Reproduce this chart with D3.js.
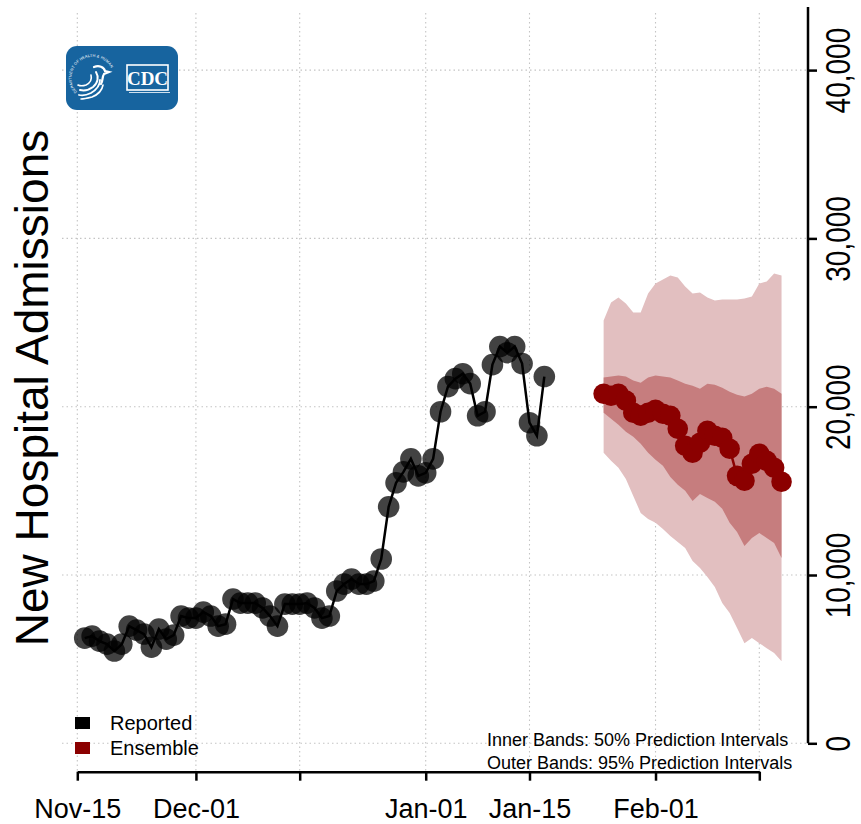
<!DOCTYPE html>
<html>
<head>
<meta charset="utf-8">
<script src="https://cdn.jsdelivr.net/npm/d3@7"></script>
<style>
  body { margin: 0; background: #fff; }
  svg { display: block; font-family: "Liberation Sans", Arial, Helvetica, sans-serif; }
</style>
</head>
<body>
<svg id="chart" width="861" height="824"></svg>
<script>
// Daily reported new hospital admissions
const reportedStart = "2021-11-16";
const reportedValues = [
  6250, 6370, 6070, 5890, 5480, 5890, 6960, 6730, 6490, 5710,
  6790, 6190, 6430, 7560, 7440, 7440, 7800, 7560, 6960, 7080,
  8570, 8330, 8330, 8330, 8040, 7560, 6960, 8270, 8270, 8270,
  8330, 8040, 7440, 7560, 9050, 9460, 9760, 9460, 9460, 9640,
  10950, 14050, 15480, 16130, 16900, 15890, 16070, 16900, 19700, 21190,
  21670, 21960, 21370, 19460, 19700, 22500, 23570, 23210, 23570, 22560,
  19050, 18270, 21790
];

// Ensemble forecast: median and prediction intervals
const ensembleStart = "2022-01-25";
const ensembleMedian = [
  20770, 20650, 20770, 20360, 19640, 19460, 19640, 19820, 19580, 19460,
  18690, 17680, 17260, 17860, 18570, 18270, 18150, 17500, 15890, 15600,
  16610, 17200, 16790, 16370, 15540
];
const upper95 = [
  25120, 26190, 26490, 26130, 25600, 25600, 26730, 27320, 27560, 27800,
  27680, 27140, 26730, 26790, 26490, 26310, 26370, 26370, 26370, 26430,
  26550, 27320, 27440, 27920, 27800
];
const upper50 = [
  21730, 21790, 21850, 21790, 21550, 21430, 21730, 21850, 21790, 21730,
  21550, 21370, 21250, 21070, 21370, 21310, 21130, 20890, 20710, 20600,
  20770, 21070, 21190, 21070, 20770
];
const lower50 = [
  19640, 19290, 18930, 18510, 18210, 17800, 17260, 16850, 16490, 15830,
  15360, 15000, 14400, 14820, 14580, 14350, 13930, 13100, 12560, 11730,
  12200, 12500, 12200, 11900, 11010
];
const lower95 = [
  17260, 16790, 16370, 15710, 14700, 13690, 13330, 13100, 12740, 12320,
  11960, 11610, 10830, 10420, 9880, 9290, 8330, 7740, 6850, 5950,
  6250, 5950, 5650, 5360, 4880
];

// Axis ticks and labels
const xTickDates = ["2021-11-15", "2021-12-01", "2021-12-15", "2022-01-01", "2022-01-15", "2022-02-01", "2022-02-15"];
const xTickLabels = ["Nov-15", "Dec-01", "", "Jan-01", "Jan-15", "Feb-01", ""];
const yTicks = [0, 10000, 20000, 30000, 40000];
const yAxisMax = 43750;
const legendLabels = ["Reported", "Ensemble"];
const noteLines = ["Inner Bands: 50% Prediction Intervals", "Outer Bands: 95% Prediction Intervals"];

const parse = d3.utcParse("%Y-%m-%d");
const reported = reportedValues.map((v, i) => ({ date: d3.utcDay.offset(parse(reportedStart), i), value: v }));
const ensemble = ensembleMedian.map((v, i) => ({
  date: d3.utcDay.offset(parse(ensembleStart), i),
  value: v, lo50: lower50[i], hi50: upper50[i], lo95: lower95[i], hi95: upper95[i]
}));
const tickDates = xTickDates.map(parse);

const svg = d3.select("#chart");

const x = d3.scaleUtc().domain([tickDates[0], tickDates[tickDates.length - 1]]).range([77.3, 759.3]);
const y = d3.scaleLinear().domain([0, 40000]).range([743.3, 70.1]);

const plot = { left: 62, right: 808, top: 13, bottom: 771.7 };

// Dotted grid
const grid = svg.append("g").attr("stroke", "#c4c4c4").attr("stroke-width", 1.1).attr("stroke-dasharray", "1.5,3");
grid.selectAll("line.v").data(tickDates).join("line").attr("class", "v")
  .attr("x1", d => x(d)).attr("x2", d => x(d)).attr("y1", plot.top).attr("y2", plot.bottom);
grid.selectAll("line.h").data(yTicks).join("line").attr("class", "h")
  .attr("x1", plot.left).attr("x2", plot.right).attr("y1", d => y(d)).attr("y2", d => y(d));

// Prediction interval bands
const band = (lo, hi) => d3.area().x(d => x(d.date)).y0(d => y(d[lo])).y1(d => y(d[hi]));
svg.append("path").datum(ensemble).attr("d", band("lo95", "hi95")).attr("fill", "#e2bfc0");
svg.append("path").datum(ensemble).attr("d", band("lo50", "hi50")).attr("fill", "#c67d7e");

// Reported series
const line = d3.line().x(d => x(d.date)).y(d => y(d.value));
svg.append("path").datum(reported).attr("d", line).attr("fill", "none").attr("stroke", "#000").attr("stroke-width", 2.5);
svg.append("g").selectAll("circle").data(reported).join("circle")
  .attr("cx", d => x(d.date)).attr("cy", d => y(d.value)).attr("r", 10.8)
  .attr("fill", "#000").attr("fill-opacity", 0.74);

// Ensemble median
svg.append("path").datum(ensemble).attr("d", line).attr("fill", "none").attr("stroke", "#8b0000").attr("stroke-width", 2.5);
svg.append("g").selectAll("circle").data(ensemble).join("circle")
  .attr("cx", d => x(d.date)).attr("cy", d => y(d.value)).attr("r", 10.3)
  .attr("fill", "#8b0000");

// X axis
const xAxis = svg.append("g").attr("transform", `translate(0,${plot.bottom})`)
  .call(d3.axisBottom(x).tickValues(tickDates).tickSize(9).tickSizeOuter(0).tickFormat((d, i) => xTickLabels[i]));
xAxis.select(".domain").attr("stroke-width", 2.5);
xAxis.selectAll(".tick line").attr("stroke-width", 2.5);
xAxis.selectAll(".tick text").attr("y", 46).attr("dy", 0)
  .attr("font-size", 27).attr("font-family", "Liberation Sans, Arial, sans-serif").attr("fill", "#000");

// Y axis on the right
const yAxis = svg.append("g").attr("transform", `translate(${plot.right},0)`)
  .call(d3.axisRight(y).tickValues(yTicks).tickSize(9).tickSizeOuter(0).tickFormat(d3.format(",")));
yAxis.select(".domain").remove();
yAxis.append("line").attr("x1", 0).attr("x2", 0).attr("y1", y(0)).attr("y2", y(yAxisMax))
  .attr("stroke", "#000").attr("stroke-width", 2.5);
yAxis.selectAll(".tick line").attr("stroke-width", 2.5);
yAxis.selectAll(".tick text").attr("x", 0).attr("dy", 0)
  .attr("transform", "translate(42,0) rotate(-90) scale(0.8,1)").attr("text-anchor", "middle")
  .attr("font-size", 35).attr("font-family", "Liberation Sans, Arial, sans-serif").attr("fill", "#000");

// Y title
svg.append("text").attr("transform", "translate(48,388) rotate(-90)").attr("text-anchor", "middle")
  .attr("font-size", 46).attr("fill", "#000").text("New Hospital Admissions");

// Legend
const legendColors = ["#000000", "#8b0000"];
const legend = svg.append("g");
legendLabels.forEach((lab, i) => {
  legend.append("rect").attr("x", 75).attr("y", 717 + i * 25).attr("width", 15).attr("height", 12).attr("fill", legendColors[i]);
  legend.append("text").attr("x", 110).attr("y", 730 + i * 25).attr("font-size", 20).attr("fill", "#000").text(lab);
});

// Band note
noteLines.forEach((t, i) => {
  svg.append("text").attr("x", 487).attr("y", 746 + i * 23).attr("font-size", 18).attr("fill", "#000").text(t);
});

// CDC logo
const logo = svg.append("g").attr("transform", "translate(66,46)");
logo.append("rect").attr("width", 112).attr("height", 64).attr("rx", 11).attr("fill", "#17649f");
const seal = logo.append("g").attr("transform", "translate(28,34)");
seal.append("path").attr("id", "sealArc").attr("d", "M -17,12 A 21,21 0 1,1 18,-10").attr("fill", "none");
seal.append("text").attr("font-size", 3.8).attr("fill", "#fff").attr("letter-spacing", 0.15)
  .append("textPath").attr("href", "#sealArc").text("DEPARTMENT OF HEALTH & HUMAN SERVICES · USA");
const eagle = seal.append("g").attr("fill", "none").attr("stroke", "#fff").attr("stroke-linecap", "round");
// head and beak
eagle.append("path").attr("d", "M 0,-13 C 5,-15 10,-13 11,-9 L 15,-8 L 10,-6 C 8,-3 9,1 7,4").attr("stroke-width", 2.2);
// flowing profile stripes forming the wings and body
eagle.append("path").attr("d", "M 2,-8 C 5,-3 4,3 -1,7 C -5,10 -10,11 -14,10").attr("stroke-width", 2);
eagle.append("path").attr("d", "M 6,0 C 6,6 2,10 -3,13 C -7,15 -11,16 -15,15").attr("stroke-width", 1.8);
eagle.append("path").attr("d", "M 9,5 C 8,11 3,15 -2,17 C -6,18 -10,19 -13,19").attr("stroke-width", 1.6);
eagle.append("path").attr("d", "M -3,-5 C -2,-1 -4,3 -8,5 C -11,6 -14,6 -16,5").attr("stroke-width", 1.6);
const cdc = logo.append("g").attr("transform", "translate(61,19)");
cdc.append("rect").attr("width", 41).attr("height", 25).attr("fill", "none").attr("stroke", "#fff").attr("stroke-width", 1.6);
cdc.append("line").attr("x1", 2).attr("x2", 43).attr("y1", 27.5).attr("y2", 27.5).attr("stroke", "#cfe0ee").attr("stroke-width", 1.2);
cdc.append("text").attr("x", 20.5).attr("y", 19.5).attr("text-anchor", "middle")
  .attr("font-family", "Liberation Serif, Times New Roman, serif").attr("font-weight", "bold")
  .attr("font-size", 19).attr("fill", "#fff").text("CDC");
</script>
</body>
</html>
